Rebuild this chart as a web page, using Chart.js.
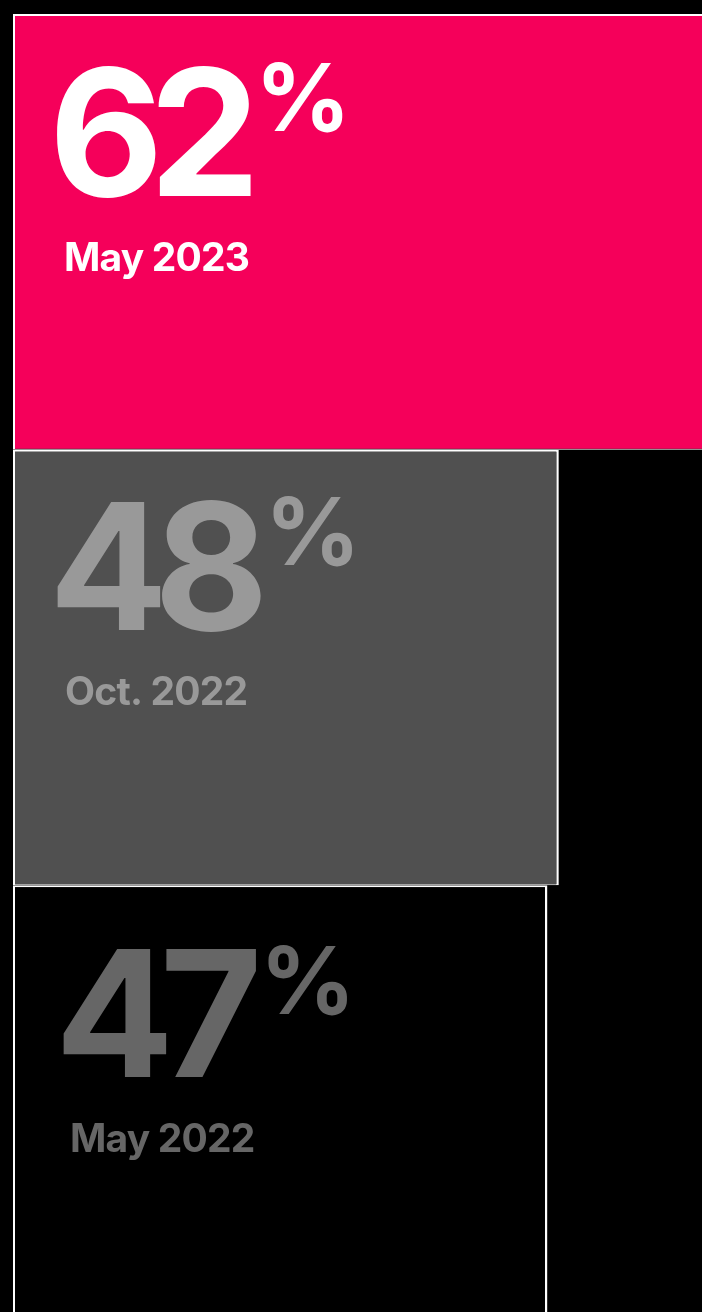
<!DOCTYPE html>
<html>
<head>
<meta charset="utf-8">
<script src="https://cdn.jsdelivr.net/npm/chart.js@4/dist/chart.umd.min.js"></script>
<style>
  html, body { margin: 0; padding: 0; background: #000; overflow: hidden; }
  #wrap { position: absolute; left: 0; top: 0; }
  canvas { display: block; }
</style>
</head>
<body>
<div id="wrap"><canvas id="share-chart" width="718" height="1321"></canvas></div>
<script>
// survey rounds, newest first
const periods = ['May 2023', 'Oct. 2022', 'May 2022'];
const shares = [62, 48, 47];

const fillColors = ['#f5005a', '#505050', '#000000'];
const inkColors = ['#ffffff', '#999999', '#666666'];

const FAMILY = 'Inter, "Noto Sans", sans-serif';

// big percentage + period name drawn inside each bar
const bigLabels = {
  id: 'bigLabels',
  afterDatasetsDraw(chart, args, opts) {
    const { ctx } = chart;
    const meta = chart.getDatasetMeta(0);
    meta.data.forEach((bar, i) => {
      const left = bar.base;
      const top = bar.y - bar.height / 2;
      const shift = opts.shift[i] || [0, 0];
      const x0 = left + shift[0];
      const y0 = top + shift[1];

      ctx.save();
      ctx.fillStyle = inkColors[i];
      ctx.textAlign = 'left';
      ctx.textBaseline = 'alphabetic';

      // number
      const num = String(shares[i]);
      ctx.font = '700 176px ' + FAMILY;
      ctx.letterSpacing = '-14px';
      const m = ctx.measureText(num);
      const numX = x0 + 44 + m.actualBoundingBoxLeft;
      const baseY = y0 + 182;
      ctx.fillText(num, numX, baseY);
      const digitTop = baseY - m.actualBoundingBoxAscent;
      const numRight = numX + m.actualBoundingBoxRight;

      // superscript percent sign
      ctx.font = '700 94px ' + FAMILY;
      ctx.letterSpacing = '0px';
      const pm = ctx.measureText('%');
      ctx.fillText('%', numRight + 12 + pm.actualBoundingBoxLeft, digitTop - 4 + pm.actualBoundingBoxAscent);

      // period name
      ctx.font = '700 39px ' + FAMILY;
      ctx.letterSpacing = '-0.8px';
      const lm = ctx.measureText(periods[i]);
      ctx.fillText(periods[i], x0 + 53 + lm.actualBoundingBoxLeft, y0 + 257);
      ctx.restore();
    });
  }
};

new Chart(document.getElementById('share-chart'), {
  type: 'bar',
  data: {
    labels: periods,
    datasets: [{
      data: shares,
      backgroundColor: fillColors,
      borderColor: '#ffffff',
      borderWidth: { top: 2, bottom: 1, left: 2, right: 2.5 },
      borderSkipped: false,
      inflateAmount: 0,
      categoryPercentage: 1,
      barPercentage: 1
    }]
  },
  options: {
    indexAxis: 'y',
    responsive: false,
    animation: false,
    devicePixelRatio: 1,
    layout: { padding: { left: 13, top: 14, right: 0, bottom: 0 } },
    scales: {
      x: { display: false, min: 0, max: 62 },
      y: { display: false }
    },
    plugins: {
      legend: { display: false },
      tooltip: { enabled: false },
      bigLabels: { shift: [[0, 0], [0, -2], [6, 10]] }
    }
  },
  plugins: [bigLabels]
});
</script>
</body>
</html>
